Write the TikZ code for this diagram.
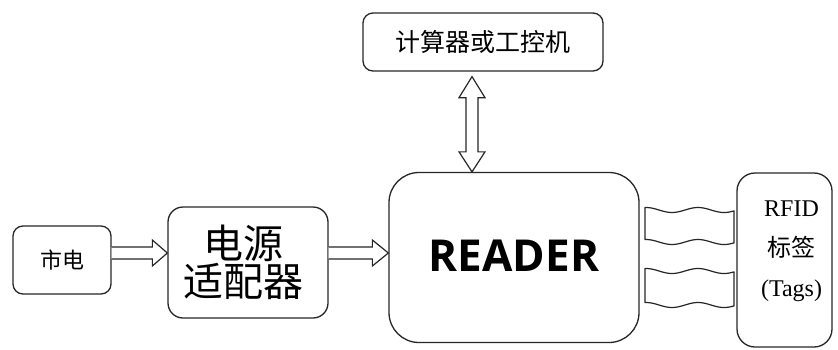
\documentclass[tikz,border=0pt]{standalone}
\usepackage{fontspec}
\usetikzlibrary{calc}
\newfontfamily\cjk{Noto Sans CJK SC}
\newfontfamily\latinsans{Open Sans}
\newfontfamily\latinserif{Liberation Serif}
\begin{document}
\begin{tikzpicture}[x=1pt,y=-1pt,
  box/.style={draw=black!85,line width=1.3pt,rectangle,inner sep=0pt},
  blk/.style={draw=black!85,line width=1.2pt,line join=miter,fill=white},
  wave/.style={draw=black!85,line width=1.2pt}]
\useasboundingbox (0,0) rectangle (838,349);
\node[box,rounded corners=10pt,minimum width=98pt,minimum height=68pt,font=\cjk\fontsize{22}{22}\selectfont] (mains) at (62,260) {市电};
\node[box,rounded corners=15pt,minimum width=160pt,minimum height=111pt,align=center,font=\cjk\fontsize{40}{38}\selectfont] (adapter) at (248,262.5) {电源\hspace*{10pt}\\适配器\hspace*{10pt}};
\node[box,rounded corners=30pt,minimum width=250pt,minimum height=170pt,font=\latinsans\bfseries\fontsize{44}{44}\selectfont] (reader) at (514,257.5) {\raisebox{4pt}{READER}};
\node[box,rounded corners=10pt,minimum width=240pt,minimum height=58pt,font=\cjk\fontsize{25}{25}\selectfont] (pc) at (483,42) {计算器或工控机};
\node[box,rounded corners=18pt,minimum width=95pt,minimum height=174pt] (tags) at (784.5,260) {};
\node[align=center,font=\fontsize{24}{40}\selectfont,inner sep=0pt] (tagtext) at ($(tags.center)+(7,-9)$) {{\latinserif RFID}\\{\cjk 标签}\\{\latinserif (Tags)}};
% arrow mains -> adapter
\draw[blk] (mains.east|-0,247) -- ($(adapter.west|-0,247)+(-15,0)$) -- ($(adapter.west|-0,240)+(-15,0)$) -- (adapter.west|-0,253) -- ($(adapter.west|-0,266)+(-15,0)$) -- ($(adapter.west|-0,259)+(-15,0)$) -- (mains.east|-0,259);
% arrow adapter -> reader
\draw[blk] (adapter.east|-0,247) -- ($(reader.west|-0,247)+(-16,0)$) -- ($(reader.west|-0,240)+(-16,0)$) -- (reader.west|-0,253) -- ($(reader.west|-0,266)+(-16,0)$) -- ($(reader.west|-0,259)+(-16,0)$) -- (adapter.east|-0,259);
% double arrow pc <-> reader
\coordinate (vt) at ($(pc.south-|472,0)+(0,5)$);
\coordinate (vb) at (reader.north-|472,0);
\draw[blk] (vt) -- ($(vt)+(13,21)$) -- ($(vt)+(6,21)$) -- ($(vb)+(6,-20)$) -- ($(vb)+(13,-20)$) -- (vb) -- ($(vb)+(-13,-20)$) -- ($(vb)+(-6,-20)$) -- ($(vt)+(-6,21)$) -- ($(vt)+(-13,21)$) -- cycle;
% waves between reader and tags
\foreach \ya/\yb in {210/242, 271/305}{
  \draw[wave,line join=round] plot[domain=645:734,samples=50,smooth] (\x,{\ya+2.5*sin(6.923*(\x-659))}) -- plot[domain=734:645,samples=50,smooth] (\x,{\yb+2.5*sin(6.923*(\x-659))}) -- cycle;
}
\end{tikzpicture}
\end{document}
